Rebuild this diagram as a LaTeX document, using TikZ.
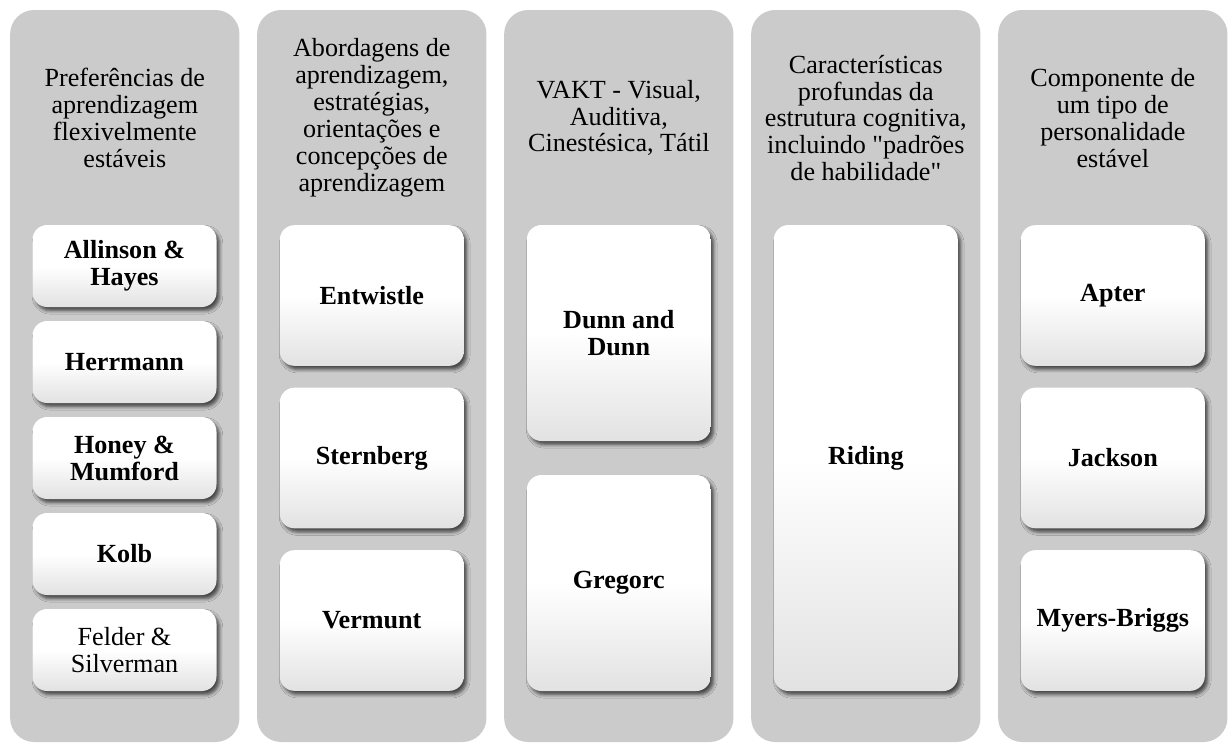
\documentclass[tikz,border=0pt]{standalone}
\usepackage{fontspec}
\setmainfont{Liberation Serif}
\usetikzlibrary{shadows.blur}
\definecolor{colgray}{HTML}{CBCBCB}
\definecolor{boxbottom}{HTML}{E2E2E2}
\begin{document}
\begin{tikzpicture}[x=0.75pt,y=-0.75pt,
  column/.style={fill=colgray, rounded corners=18pt, minimum width=172pt,
    minimum height=549pt, inner sep=0pt},
  header/.style={align=center, inner sep=0pt,
    font=\fontsize{19.6}{20.2}\selectfont},
  itembox/.style={rounded corners=11pt, minimum width=138pt, inner sep=0pt,
    align=center, font=\fontsize{19.6}{20.2}\selectfont\bfseries,
    top color=white, bottom color=boxbottom, middle color=white,
    blur shadow={shadow xshift=2.2pt, shadow yshift=-2.8pt,
      shadow blur radius=2.5pt, shadow opacity=65}},
  plain/.style={font=\fontsize{19.6}{20.2}\selectfont},
  short/.style={minimum height=61.5pt},
  mid/.style={minimum height=105.5pt},
  tall/.style={minimum height=162pt},
  full/.style={minimum height=349.5pt}
]
\useasboundingbox (0,0) rectangle (1230,743);

% five grey columns
\node[column] (c1) at (124.8,376) {};
\node[column] (c2) at (371.8,376) {};
\node[column] (c3) at (618.8,376) {};
\node[column] (c4) at (865.8,376) {};
\node[column] (c5) at (1112.8,376) {};

% column headings
\node[header] (h1) at (124.8,118) {Preferências de\\aprendizagem\\flexivelmente\\estáveis};
\node[header] (h2) at (371.8,118) {Abordagens de\\aprendizagem,\\estratégias,\\orientações e\\concepções de\\aprendizagem};
\node[header] (h3) at (618.8,118) {VAKT - Visual,\\Auditiva,\\Cinestésica, Tátil};
\node[header] (h4) at (865.8,118) {Características\\profundas da\\estrutura cognitiva,\\incluindo \textquotedbl padrões\\de habilidade\textquotedbl};
\node[header] (h5) at (1112.8,118) {Componente de\\um tipo de\\personalidade\\estável};

% column 1
\node[itembox, short] (allinson) at (124.5,266) {Allinson \&\\Hayes};
\node[itembox, short] (herrmann) at (124.5,362) {Herrmann};
\node[itembox, short] (honey) at (124.5,458) {Honey \&\\Mumford};
\node[itembox, short] (kolb) at (124.5,554) {Kolb};
\node[itembox, short, plain] (felder) at (124.5,650) {Felder \&\\Silverman};

% column 2
\node[itembox, mid] (entwistle) at (371.8,295.5) {Entwistle};
\node[itembox, mid] (sternberg) at (371.8,458) {Sternberg};
\node[itembox, mid] (vermunt) at (371.8,620.5) {Vermunt};

% column 3
\node[itembox, tall] (dunn) at (618.8,333) {Dunn and\\Dunn};
\node[itembox, tall] (gregorc) at (618.8,583) {Gregorc};

% column 4
\node[itembox, full] (riding) at (865.8,458) {Riding};

% column 5
\node[itembox, mid] (apter) at (1112.8,295.5) {Apter};
\node[itembox, mid] (jackson) at (1112.8,458) {Jackson};
\node[itembox, mid] (myers) at (1112.8,620.5) {Myers-Briggs};
\end{tikzpicture}
\end{document}
